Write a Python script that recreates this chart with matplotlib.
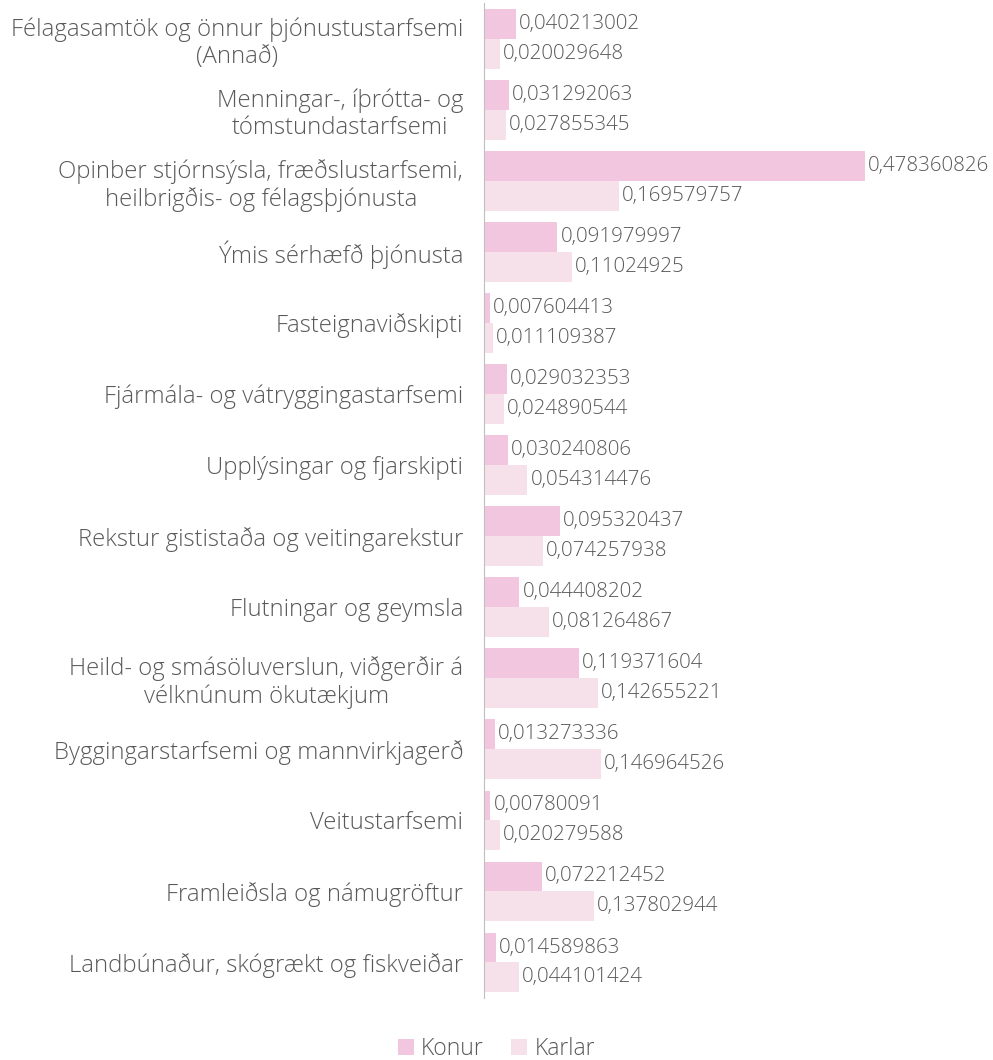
import matplotlib.pyplot as plt
import numpy as np

plt.rcParams['font.family'] = ['Open Sans', 'DejaVu Sans']

categories = [
    'Félagasamtök og önnur þjónustustarfsemi\n(Annað)',
    'Menningar-, íþrótta- og\ntómstundastarfsemi',
    'Opinber stjórnsýsla, fræðslustarfsemi,\nheilbrigðis- og félagsþjónusta',
    'Ýmis sérhæfð þjónusta',
    'Fasteignaviðskipti',
    'Fjármála- og vátryggingastarfsemi',
    'Upplýsingar og fjarskipti',
    'Rekstur gististaða og veitingarekstur',
    'Flutningar og geymsla',
    'Heild- og smásöluverslun, viðgerðir á\nvélknúnum ökutækjum',
    'Byggingarstarfsemi og mannvirkjagerð',
    'Veitustarfsemi',
    'Framleiðsla og námugröftur',
    'Landbúnaður, skógrækt og fiskveiðar',
]
konur = [0.040213002, 0.031292063, 0.478360826, 0.091979997, 0.007604413,
         0.029032353, 0.030240806, 0.095320437, 0.044408202, 0.119371604,
         0.013273336, 0.00780091, 0.072212452, 0.014589863]
karlar = [0.020029648, 0.027855345, 0.169579757, 0.11024925, 0.011109387,
          0.024890544, 0.054314476, 0.074257938, 0.081264867, 0.142655221,
          0.146964526, 0.020279588, 0.137802944, 0.044101424]

c_konur = '#F3C6DF'
c_karlar = '#F6E1EA'
txt = '#595959'

fig = plt.figure(figsize=(9.93, 10.6), dpi=100)
ax = fig.add_axes([0.4874, 0.0585, 0.5126, 0.9385])

y = np.arange(len(categories))
h = 0.42
ax.barh(y - h / 2, konur, height=h, color=c_konur, label='Konur')
ax.barh(y + h / 2, karlar, height=h, color=c_karlar, label='Karlar')

for i in range(len(categories)):
    ax.text(konur[i] + 0.004, y[i] - h / 2, str(konur[i]).replace('.', ','),
            va='center', ha='left', fontsize=14.8, color=txt, fontweight='light')
    ax.text(karlar[i] + 0.004, y[i] + h / 2, str(karlar[i]).replace('.', ','),
            va='center', ha='left', fontsize=14.8, color=txt, fontweight='light')

ax.set_ylim(len(categories) - 0.5, -0.5)
ax.set_xlim(0, 0.639)
ax.set_yticks(y)
ax.set_yticklabels(categories, fontsize=17.2, color=txt, fontweight='light',
                   multialignment='center', linespacing=1.15)
ax.tick_params(axis='y', length=0, pad=15)
ax.set_xticks([])
for s in ['top', 'right', 'bottom']:
    ax.spines[s].set_visible(False)
ax.spines['left'].set_color('#BFBFBF')

fig.legend(loc='lower center', bbox_to_anchor=(0.5, -0.02), ncol=2, frameon=False,
           handlelength=0.7, handleheight=0.7, handletextpad=0.3, columnspacing=1.2,
           prop={'size': 16.5, 'weight': 'light'}, labelcolor=txt)

fig.savefig('out.png', dpi=100)
